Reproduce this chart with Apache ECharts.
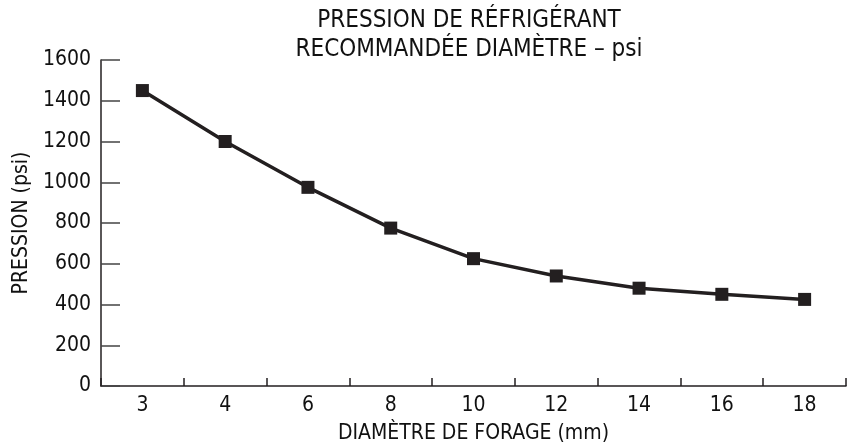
<!DOCTYPE html>
<html>
<head>
<meta charset="utf-8">
<script src="https://cdn.jsdelivr.net/npm/echarts@6/dist/echarts.min.js"></script>
<style>
  html, body { margin: 0; padding: 0; background: #fff; }
  #chart { width: 848px; height: 445px; }
</style>
</head>
<body>
<div id="chart"></div>
<script>
// diamètre de forage (mm)
const diametres = ['3', '4', '6', '8', '10', '12', '14', '16', '18']
// pression recommandée (psi)
const pression = [1450, 1200, 975, 775, 625, 540, 480, 450, 425]
const yTicks = { min: 0, max: 1600, interval: 200 }

const FONT = '"Liberation Sans Narrow", "DejaVu Sans Condensed", "Liberation Sans", sans-serif'
const INK = '#231f20'

const myChart = echarts.init(document.getElementById('chart'))
myChart.setOption({
  animation: false,
  title: {
    text: 'PRESSION DE RÉFRIGÉRANT\nRECOMMANDÉE DIAMÈTRE – psi',
    left: 464,
    top: 1,
    textAlign: 'center',
    textStyle: {
      fontFamily: FONT,
      fontSize: 24,
      fontWeight: 'normal',
      color: '#111',
      lineHeight: 29
    }
  },
  grid: {
    left: 101,
    right: 2,
    top: 60,
    bottom: 59,
    outerBoundsMode: 'none'
  },
  xAxis: {
    type: 'category',
    data: diametres,
    boundaryGap: true,
    name: 'DIAMÈTRE DE FORAGE (mm)',
    nameLocation: 'middle',
    nameGap: 37,
    nameTextStyle: { fontFamily: FONT, fontSize: 21, color: '#111' },
    axisLine: { show: true, lineStyle: { color: INK, width: 1.5 } },
    axisTick: { show: true, inside: true, length: 8, lineStyle: { color: INK, width: 1.5 } },
    axisLabel: { fontFamily: FONT, fontSize: 21, color: '#111', margin: 9 },
    splitLine: { show: false }
  },
  yAxis: {
    type: 'value',
    min: yTicks.min,
    max: yTicks.max,
    interval: yTicks.interval,
    name: 'PRESSION (psi)',
    nameLocation: 'middle',
    nameGap: 68,
    nameTextStyle: { fontFamily: FONT, fontSize: 21, color: '#111' },
    axisLine: { show: true, lineStyle: { color: INK, width: 1.5 } },
    axisTick: { show: true, inside: true, length: 19, lineStyle: { color: '#444', width: 1.5 } },
    axisLabel: {
      fontFamily: FONT,
      fontSize: 21,
      color: '#111',
      margin: 10,
      formatter: (v) => String(v)
    },
    splitLine: { show: false }
  },
  series: [
    {
      type: 'line',
      data: pression,
      symbol: 'rect',
      symbolSize: 13,
      smooth: false,
      lineStyle: { color: INK, width: 3.5 },
      itemStyle: { color: INK }
    }
  ]
})
</script>
</body>
</html>
